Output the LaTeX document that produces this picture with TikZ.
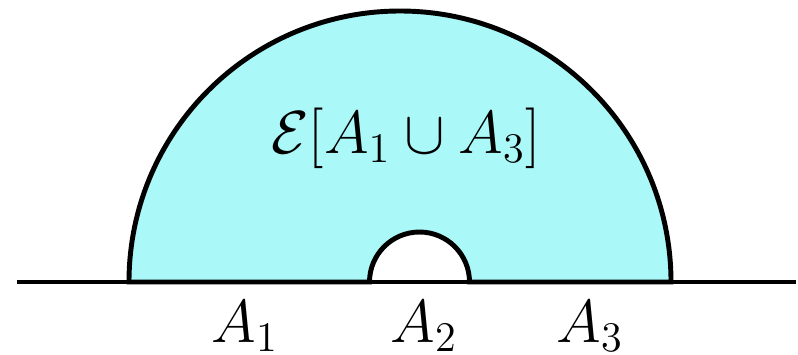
\documentclass[tikz,border=0pt]{standalone}
\usepackage{amsmath}
\definecolor{wedgecyan}{RGB}{170,248,248}
\begin{document}
\begin{tikzpicture}[
        line width=1.4pt,
        label text/.style={anchor=base, font=\fontsize{17.28}{20}\selectfont},
        region fill/.style={fill=wedgecyan, draw=black},
    ]
    \useasboundingbox (-4.00,-0.72) rectangle (3.98,2.82);

    % Gefüllter Halbring zwischen grossem und kleinem Bogen
    \path[region fill] (-2.71,0) arc (180:0:2.71) -- (0.695,0)
        arc (0:180:0.5) -- cycle;

    % Grundlinie
    \coordinate (west) at (-3.83,0);
    \coordinate (east) at (3.96,0);
    \draw (west) -- (east);

    % Beschriftung des Gebiets
    \node[label text] (wedge) at (0.06,1.29) {$\mathcal{E}[A_1\cup A_3]$};

    % Beschriftungen der Intervalle
    \foreach \x/\name [count=\i] in {-1.55/A_1, 0.24/A_2, 1.90/A_3} {
        \node[label text] (int-\i) at (\x,-0.60) {$\name$};
    }
\end{tikzpicture}
\end{document}
